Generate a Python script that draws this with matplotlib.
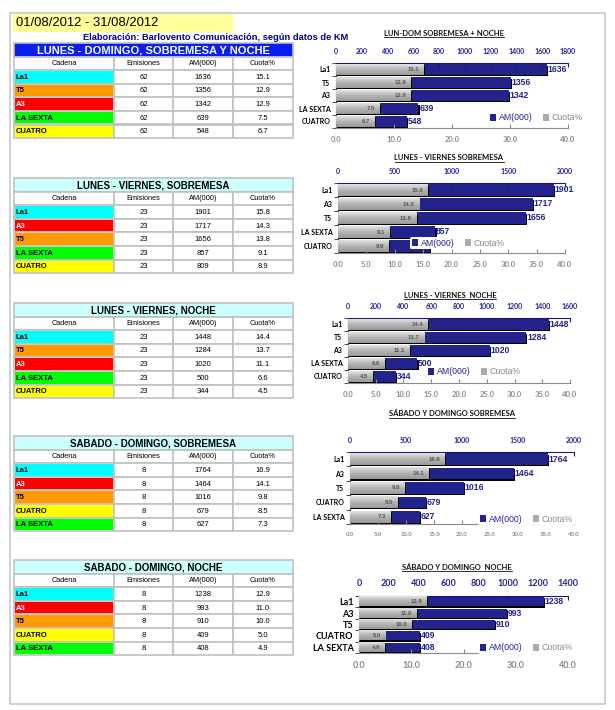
import matplotlib
matplotlib.use('Agg')
import matplotlib.pyplot as plt
import matplotlib.patheffects as pe
import numpy as np
from matplotlib.patches import Rectangle
from matplotlib.lines import Line2D
from matplotlib.colors import LinearSegmentedColormap

# ---- data ----
periodo = '01/08/2012 - 31/08/2012'
fuente = 'Elaboración: Barlovento Comunicación, según datos de KM'
columnas = ['Cadena', 'Emisiones', 'AM(000)', 'Cuota%']

t1_titulo = 'LUNES - DOMINGO, SOBREMESA Y NOCHE'
t1_cadenas = ['La1', 'T5', 'A3', 'LA SEXTA', 'CUATRO']
t1_emis = [62, 62, 62, 62, 62]
t1_am = [1636, 1356, 1342, 639, 548]
t1_cuota = [15.1, 12.9, 12.9, 7.5, 6.7]

t2_titulo = 'LUNES - VIERNES, SOBREMESA'
t2_cadenas = ['La1', 'A3', 'T5', 'LA SEXTA', 'CUATRO']
t2_emis = [23, 23, 23, 23, 23]
t2_am = [1901, 1717, 1656, 857, 809]
t2_cuota = [15.8, 14.3, 13.8, 9.1, 8.9]

t3_titulo = 'LUNES - VIERNES, NOCHE'
t3_cadenas = ['La1', 'T5', 'A3', 'LA SEXTA', 'CUATRO']
t3_emis = [23, 23, 23, 23, 23]
t3_am = [1448, 1284, 1020, 500, 344]
t3_cuota = [14.4, 13.7, 11.1, 6.6, 4.5]

t4_titulo = 'SABADO - DOMINGO, SOBREMESA'
t4_cadenas = ['La1', 'A3', 'T5', 'CUATRO', 'LA SEXTA']
t4_emis = [8, 8, 8, 8, 8]
t4_am = [1764, 1464, 1016, 679, 627]
t4_cuota = [16.9, 14.1, 9.8, 8.5, 7.3]

t5_titulo = 'SABADO - DOMINGO, NOCHE'
t5_cadenas = ['La1', 'A3', 'T5', 'CUATRO', 'LA SEXTA']
t5_emis = [8, 8, 8, 8, 8]
t5_am = [1238, 993, 910, 409, 408]
t5_cuota = [12.9, 11.0, 10.0, 5.0, 4.9]

g_titulos = ['LUN-DOM SOBREMESA + NOCHE', 'LUNES - VIERNES SOBREMESA',
             'LUNES - VIERNES  NOCHE', 'SÁBADO Y DOMINGO SOBREMESA',
             'SÁBADO Y DOMINGO  NOCHE']
g_am_max = [1800, 2000, 1600, 2000, 1400]
g_am_paso = [200, 500, 200, 500, 200]
g_cuota_paso = [10, 5, 5, 5, 10]

color_cadena = {'La1': '#00FFFF', 'T5': '#FF9900', 'A3': '#FF0000',
                'LA SEXTA': '#00FF00', 'CUATRO': '#FFFF00'}
NAVY = '#23238c'
GRIS = '#ababab'
GRID = '#c0c0c0'
degradado = LinearSegmentedColormap.from_list('gris', ['#e2e2e2', '#b4b4b4', '#9a9a9a'])

W, H = 615, 710
fig = plt.figure(figsize=(W / 100, H / 100), dpi=100)
bg = fig.add_axes([0, 0, 1, 1])
bg.set_xlim(0, W)
bg.set_ylim(H, 0)
bg.axis('off')

TFONT = 'Liberation Sans'
CFONT = 'Lato'

# outer frame + title
bg.add_patch(Rectangle((10, 13), 595, 691, fill=False, ec='#c4c4c4', lw=1.1))
bg.add_patch(Rectangle((13, 14), 220, 18, fc='#ffff99', ec='none'))
bg.text(16, 23.5, periodo, fontsize=9.4, family=TFONT, va='center', ha='left')
bg.text(216, 37, fuente, fontsize=6.7, family=TFONT, weight='bold', color='#000080',
        va='center', ha='center')


def tabla(y0, titulo, cadenas, emis, am, cuota, principal=False):
    xs = [14, 114, 173, 233, 293]
    hh = 13.5
    rh = 13.6
    # header
    if principal:
        bg.add_patch(Rectangle((xs[0], y0), xs[-1] - xs[0], hh, fc='#0a1ef0', ec=GRID, lw=1.2))
        bg.text((xs[0] + xs[-1]) / 2, y0 + hh / 2 + 0.5, titulo, fontsize=8, family=TFONT,
                weight='bold', color='white', ha='center', va='center')
    else:
        bg.add_patch(Rectangle((xs[0], y0), xs[-1] - xs[0], hh, fc='#ccffff', ec=GRID, lw=1.2))
        bg.text((xs[0] + xs[-1]) / 2, y0 + hh / 2 + 0.5, titulo, fontsize=7, family=TFONT,
                weight='bold', color='black', ha='center', va='center')
    y = y0 + hh
    for j, c in enumerate(columnas):
        bg.add_patch(Rectangle((xs[j], y), xs[j + 1] - xs[j], rh, fc='white', ec=GRID, lw=1.2))
        bg.text((xs[j] + xs[j + 1]) / 2, y + rh / 2, c, fontsize=5.3, family=TFONT,
                ha='center', va='center')
    for i, cad in enumerate(cadenas):
        y = y0 + hh + rh * (i + 1)
        for j in range(4):
            bg.add_patch(Rectangle((xs[j], y), xs[j + 1] - xs[j], rh, fc='white', ec=GRID, lw=1.2))
        bg.add_patch(Rectangle((xs[0] + 1, y + 1), xs[1] - xs[0] - 2, rh - 2,
                               fc=color_cadena[cad], ec='none'))
        bg.text(xs[0] + 1.5, y + rh / 2 + 0.5, cad, fontsize=5.5, family=TFONT, weight='bold',
                color='white' if cad == 'A3' else 'black', ha='left', va='center')
        vals = [str(emis[i]), str(am[i]), '%.1f' % cuota[i]]
        for j, v in enumerate(vals):
            bg.text((xs[j + 1] + xs[j + 2]) / 2, y + rh / 2 + 0.5, v, fontsize=5.5,
                    family=TFONT, ha='center', va='center')


tabla(43, t1_titulo, t1_cadenas, t1_emis, t1_am, t1_cuota, principal=True)
tabla(178, t2_titulo, t2_cadenas, t2_emis, t2_am, t2_cuota)
tabla(303, t3_titulo, t3_cadenas, t3_emis, t3_am, t3_cuota)
tabla(436, t4_titulo, t4_cadenas, t4_emis, t4_am, t4_cuota)
tabla(560, t5_titulo, t5_cadenas, t5_emis, t5_am, t5_cuota)

# chart boxes in pixels: x0, x1, y0, y1, title x, title y, legend x, legend y
cajas = [
    (336, 568, 63, 128, 444, 33, 484, 118),
    (338, 565, 183, 253, 449, 158, 406, 243),
    (348, 570, 318, 383, 450, 295, 422, 372),
    (350, 574, 452, 524, 452, 414, 474, 519),
    (359, 568, 596, 653, 457, 567, 474, 648),
]
tick_fs = [5, 5, 5, 5, 6.5]
bot_fs = [5.5, 5.5, 5.5, 4.3, 6.5]
datos = [(t1_cadenas, t1_am, t1_cuota), (t2_cadenas, t2_am, t2_cuota),
         (t3_cadenas, t3_am, t3_cuota), (t4_cadenas, t4_am, t4_cuota),
         (t5_cadenas, t5_am, t5_cuota)]

sombra = [pe.SimplePatchShadow(offset=(0.9, -0.9), shadow_rgbFace='black', alpha=1), pe.Normal()]
titulos_txt = []
grad = np.linspace(0, 1, 32).reshape(-1, 1)

for k, (cads, am, cuota) in enumerate(datos):
    x0, x1, y0, y1, tx, ty, lx, ly = cajas[k]
    ax = fig.add_axes([x0 / W, 1 - y1 / H, (x1 - x0) / W, (y1 - y0) / H])
    ax2 = ax.twiny()
    pos = list(range(len(cads)))
    bh = 0.8

    # AM(000) on the top axis
    ax.barh(pos, am, height=bh, color=NAVY, path_effects=sombra, label='AM(000)')
    ax.set_xlim(0, g_am_max[k])
    ax.set_ylim(len(cads) - 0.5, -0.5)
    ax.xaxis.tick_top()
    ax.xaxis.set_label_position('top')
    ax.set_xticks(range(0, g_am_max[k] + 1, g_am_paso[k]))
    ax.tick_params(axis='x', direction='in', length=3, color='#1a1a70', pad=6,
                   labelsize=tick_fs[k], labelcolor=NAVY, top=True, bottom=False,
                   labeltop=True, labelbottom=False)
    for lab in ax.get_xticklabels():
        lab.set_fontweight('bold')
        lab.set_family(CFONT)
    ax.set_yticks(pos)
    ax.set_yticklabels(cads, fontsize=tick_fs[k], fontweight='bold', family=CFONT)
    ax.tick_params(axis='y', length=0, pad=4)
    ax.set_yticks([p - 0.5 for p in pos] + [len(cads) - 0.5], minor=True)
    ax.tick_params(axis='y', which='minor', length=3, direction='out', color='#333333')
    ax.spines['right'].set_visible(False)
    ax.spines['bottom'].set_visible(False)
    ax.spines['top'].set_color('#1a1a70')
    ax.spines['left'].set_color('#333333')
    for i, v in enumerate(am):
        ax.text(v + g_am_max[k] * 0.004, i, str(v), fontsize=6.2, family=TFONT, weight='bold',
                color=NAVY, va='center', ha='left')

    # Cuota% on the bottom axis
    ax2.barh(pos, cuota, height=bh, color=GRIS, path_effects=sombra, label='Cuota%')
    for i, v in enumerate(cuota):
        ax2.imshow(grad, extent=[0, v, i + bh / 2, i - bh / 2], aspect='auto',
                   cmap=degradado, zorder=1.5, interpolation='bilinear')
    ax2.set_xlim(0, 40)
    ax2.set_ylim(len(cads) - 0.5, -0.5)
    ax2.xaxis.tick_bottom()
    ax2.xaxis.set_label_position('bottom')
    ax2.set_xticks(range(0, 41, g_cuota_paso[k]))
    ax2.set_xticklabels(['%.1f' % v for v in range(0, 41, g_cuota_paso[k])])
    ax2.tick_params(axis='x', direction='in', length=3, color='#8a8a8a', pad=6,
                    labelsize=bot_fs[k], labelcolor='#8a8a8a', top=False, bottom=True,
                    labeltop=False, labelbottom=True)
    for lab in ax2.get_xticklabels():
        lab.set_fontweight('bold')
        lab.set_family(CFONT)
    ax2.spines['right'].set_visible(False)
    ax2.spines['top'].set_visible(False)
    ax2.spines['left'].set_visible(False)
    ax2.spines['bottom'].set_color('#8a8a8a')
    for i, v in enumerate(cuota):
        ax2.text(v - 0.8, i, '%.1f' % v, fontsize=4.3, family=TFONT, weight='bold',
                 color='#555555', va='center', ha='right', zorder=3)

    h1, l1 = ax.get_legend_handles_labels()
    h2, l2 = ax2.get_legend_handles_labels()
    leg = ax2.legend(h1 + h2, l1 + l2, loc='center left', ncol=2,
                     bbox_to_anchor=(lx / W, 1 - ly / H), bbox_transform=fig.transFigure,
                     frameon=True, facecolor='white', edgecolor='none',
                     framealpha=1, handlelength=0.7, handleheight=0.7, handletextpad=0.3,
                     columnspacing=1.2, borderpad=0.2, labelcolor=[NAVY, '#8a8a8a'],
                     prop={'family': TFONT, 'size': 6.3})
    leg.set_zorder(5)
    for hnd in leg.legend_handles:
        hnd.set_path_effects([])

    t = bg.text(tx, ty, g_titulos[k], fontsize=5.5, family=CFONT, weight='bold',
                ha='center', va='center', color='#111111')
    titulos_txt.append(t)

fig.canvas.draw()
r = fig.canvas.get_renderer()
for t in titulos_txt:
    bb = t.get_window_extent(r)
    yb = H - bb.y0 + 0.5
    bg.add_line(Line2D([bb.x0, bb.x1], [yb, yb], color='#111111', lw=0.6))

fig.savefig('out.png', dpi=100)
